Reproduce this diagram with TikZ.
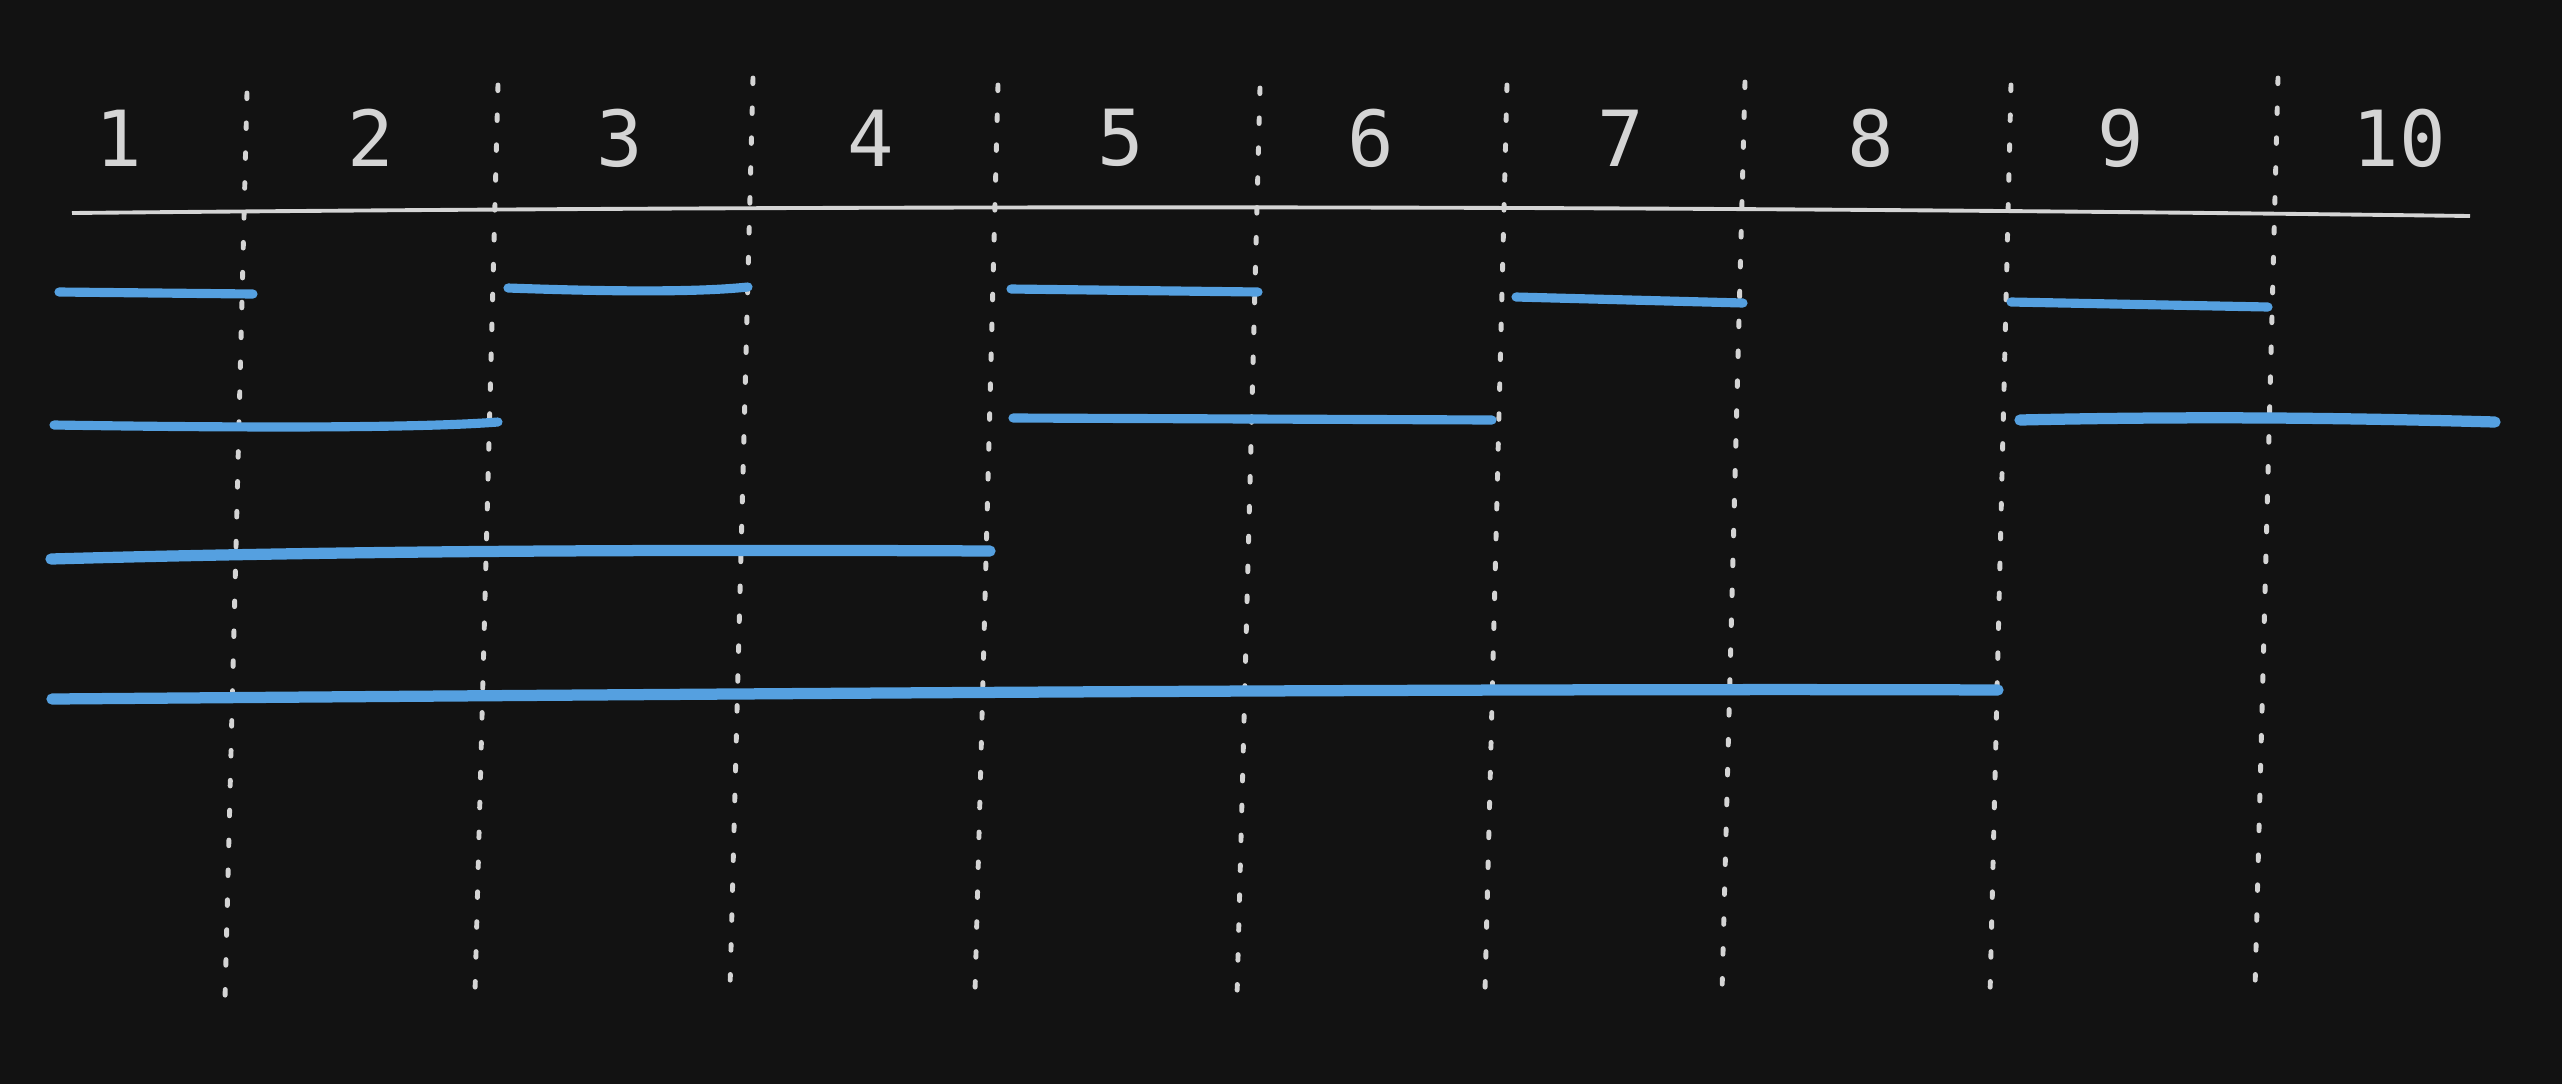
\documentclass[tikz,border=0pt]{standalone}
\usepackage{fontspec}
\newfontfamily\slotfont{DejaVu Sans Mono}
\definecolor{bgdark}{HTML}{121212}
\definecolor{chalk}{HTML}{D4D4D4}
\definecolor{slotblue}{HTML}{55A0E0}
\begin{document}
\begin{tikzpicture}[x=0.01cm, y=-0.01cm,
    divider/.style = {chalk, line width=1.4pt, line cap=round, dash pattern=on 1.6pt off 6.9pt},
    slot/.style = {slotblue, line width=2.6pt, line cap=round},
    num/.style = {chalk, font=\slotfont\fontsize{22}{26}\selectfont, inner sep=0pt}]
        \fill [bgdark] (0,0) rectangle (2562,1084);
        \useasboundingbox (0,0) rectangle (2562,1084);
        % column numbers
        \node[num] (n1) at (119,138) {1};
        \node[num] (n2) at (371,138) {2};
        \node[num] (n3) at (620,138) {3};
        \node[num] (n4) at (871,138) {4};
        \node[num] (n5) at (1121,138) {5};
        \node[num] (n6) at (1371,138) {6};
        \node[num] (n7) at (1621,138) {7};
        \node[num] (n8) at (1871,138) {8};
        \node[num] (n9) at (2121,138) {9};
        \node[num] (n10) at (2399,138) {10};
        % axis
        \draw [chalk, line width=1.1pt] (72,213) .. controls (900,205) and (1600,205) .. (2470,216);
        % dotted dividers
        \draw [divider] (247,93) -- (225,1000);
        \draw [divider] (498,85) -- (475,993);
        \draw [divider] (753,78) -- (730,988);
        \draw [divider] (998,85) -- (975,993);
        \draw [divider] (1260,88) -- (1237,997);
        \draw [divider] (1507,85) -- (1485,992);
        \draw [divider] (1745,82) -- (1722,992);
        \draw [divider] (2011,85) -- (1990,995);
        \draw [divider] (2278,78) -- (2255,988);
        % blocks of size 1
        \draw [slot] (59,292) -- (253,294);
        \draw [slot] (508,288) .. controls (620,292) and (700,292) .. (748,287);
        \draw [slot] (1011,289) -- (1258,292);
        \draw [slot] (1516,297) -- (1743,303);
        \draw [slot] (2011,302) -- (2268,307);
        % blocks of size 2
        \draw [slot] (54,425) .. controls (250,428) and (420,428) .. (498,422);
        \draw [slot] (1013,418) -- (1492,420);
        \draw [slot, line width=3.2pt] (2020,420) .. controls (2200,416) and (2350,418) .. (2495,422);
        % block of size 4
        \draw [slot, line width=3.2pt] (51,559) .. controls (300,552) and (600,549) .. (990,551);
        % block of size 8
        \draw [slot, line width=3.2pt] (52,699) .. controls (700,694) and (1500,688) .. (1998,690);
\end{tikzpicture}
\end{document}
